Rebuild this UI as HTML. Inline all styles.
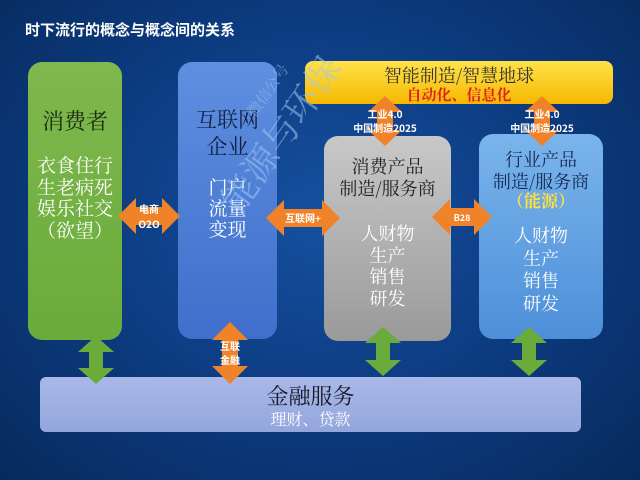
<!DOCTYPE html>
<html><head><meta charset="utf-8"><style>
*{margin:0;padding:0}
body{width:640px;height:480px;overflow:hidden;background:radial-gradient(ellipse at 50% 45%,#1550a0 0%,#0c3a7e 55%,#072a5c 100%);font-family:"Liberation Sans","Noto Sans CJK SC",sans-serif;position:relative}
.a{position:absolute}
.t{position:absolute;left:0;right:0;text-align:center;line-height:1;font-family:"Noto Serif CJK SC","Noto Sans CJK SC",serif}
.box{position:absolute;border-radius:14px}
</style></head><body>
<div class="a" style="left:25px;top:19px;color:#fff;font-weight:bold;font-size:15px;font-family:'Noto Sans CJK SC',sans-serif">时下流行的概念与概念间的关系</div>

<div class="box" style="left:28px;top:62px;width:94px;height:278px;background:linear-gradient(#7fb84e,#6aab3b)">
<div class="t" style="top:48px;font-size:22px;color:#1a2a10">消费者</div>
<div class="t" style="top:92px;font-size:19px;color:#fff;line-height:21.5px">衣食住行<br>生老病死<br>娱乐社交<br>（欲望）</div>
</div>
<div class="box" style="left:178px;top:62px;width:99px;height:277px;background:linear-gradient(#5e8fe0,#3f6fcb)">
<div class="t" style="top:44px;font-size:21px;color:#122040;line-height:27px">互联网<br>企业</div>
<div class="t" style="top:114px;font-size:19px;color:#fff;line-height:21px">门户<br>流量<br>变现</div>
</div>
<div class="box" style="left:324px;top:136px;width:127px;height:205px;background:linear-gradient(#c8c8c8,#9a9a9a)">
<div class="t" style="top:19px;font-size:18px;color:#222;line-height:22px">消费产品<br>制造/服务商</div>
<div class="t" style="top:87px;font-size:18px;color:#fff;line-height:21.5px">人财物<br>生产<br>销售<br>研发</div>
</div>
<div class="box" style="left:479px;top:134px;width:124px;height:205px;background:linear-gradient(#7ab4ec,#4d8fd8)">
<div class="t" style="top:14px;font-size:18px;color:#142a50;line-height:22px">行业产品<br>制造/服务商</div>
<div class="t" style="top:57px;font-size:17px;color:#ffe040;font-weight:bold">（能源）</div>
<div class="t" style="top:90px;font-size:18px;color:#fff;line-height:22.5px">人财物<br>生产<br>销售<br>研发</div>
</div>
<div class="box" style="left:305px;top:61px;width:308px;height:43px;border-radius:8px;background:linear-gradient(#ffe24a,#f5b800)">
<div class="t" style="top:5px;font-size:18px;color:#333">智能制造/智慧地球</div>
<div class="t" style="top:26px;font-size:15px;color:#e02020;font-weight:bold">自动化、信息化</div>
</div>
<div class="box" style="left:40px;top:377px;width:541px;height:55px;border-radius:6px;background:linear-gradient(#a9b8e8,#93a6dc)">
<div class="t" style="top:8px;font-size:22px;color:#1a1a2a">金融服务</div>
<div class="t" style="top:34px;font-size:16px;color:#fff">理财、贷款</div>
</div>

<svg class="a" style="left:0;top:0" width="640" height="480">
<g fill="#f0822a">
<polygon points="118,216 136,198 136,207 162,207 162,198 180,216 162,234 162,225 136,225 136,234"/>
<polygon points="266,218 284,200 284,209 322,209 322,200 340,218 322,236 322,227 284,227 284,236"/>
<polygon points="432,217 450,199 450,208 474,208 474,199 492,217 474,235 474,226 450,226 450,235"/>
<polygon points="230,322 248,340 238,340 238,366 248,366 230,384 212,366 222,366 222,340 212,340"/>
<polygon points="385,96 402,112 393,112 393,130 402,130 385,146 368,130 377,130 377,112 368,112"/>
<polygon points="542,96 559,112 550,112 550,130 559,130 542,146 525,130 534,130 534,112 525,112"/>
</g>
<g fill="#6aab3b">
<polygon points="96,336 114,352 103,352 103,368 114,368 96,384 78,368 89,368 89,352 78,352"/>
<polygon points="383,327 401,343 390,343 390,360 401,360 383,376 365,360 376,360 376,343 365,343"/>
<polygon points="529,327 547,343 536,343 536,360 547,360 529,376 511,360 522,360 522,343 511,343"/>
</g>
<g fill="#fff" font-family="Noto Sans CJK SC,sans-serif" font-weight="bold" text-anchor="middle">
<text x="149" y="213" font-size="10">电商</text><text x="149" y="228" font-size="10">O2O</text>
<text x="303" y="222" font-size="10">互联网+</text>
<text x="462" y="221" font-size="9">B28</text>
<text x="230" y="350" font-size="10">互联</text><text x="230" y="364" font-size="10">金融</text>
<text x="385" y="118" font-size="10">工业4.0</text><text x="385" y="132" font-size="10">中国制造2025</text>
<text x="542" y="118" font-size="10">工业4.0</text><text x="542" y="132" font-size="10">中国制造2025</text>
</g>
<g fill="#9fc8f0" opacity="0.55" font-family="Noto Serif CJK SC,serif">
<text x="0" y="0" font-size="36" transform="translate(240,215) rotate(-55)">能源与环保</text>
<text x="0" y="0" font-size="15" transform="translate(255,118) rotate(-55)">微信公号</text>
</g>
</svg>
</body></html>
